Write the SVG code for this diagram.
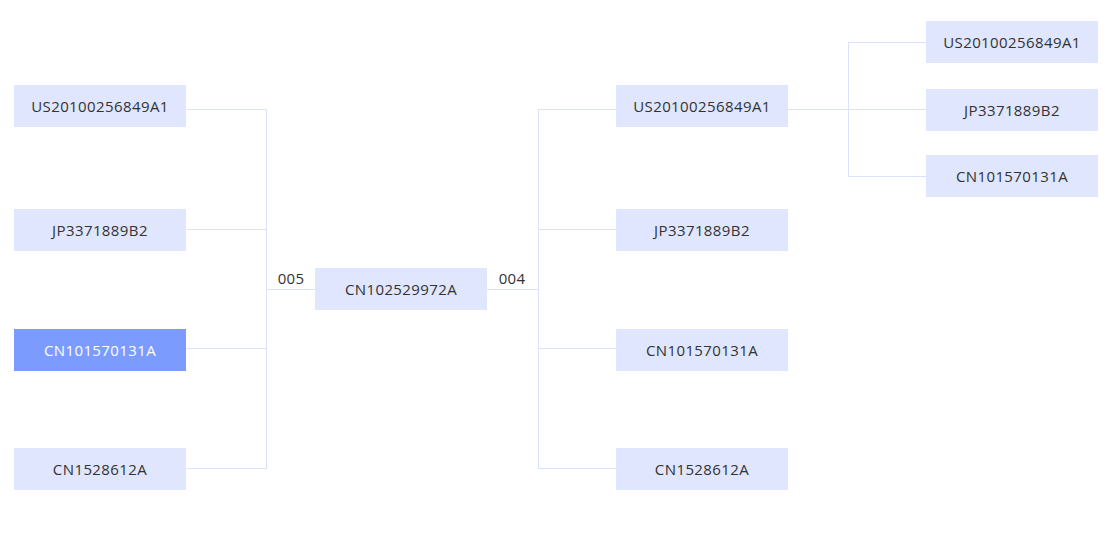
<svg xmlns="http://www.w3.org/2000/svg" width="1109" height="556" viewBox="0 0 1109 556">
<style>
.n{fill:#dfe6fd}
.h{fill:#7b9bff}
.t{font-family:"Open Sans","Noto Sans",sans-serif;font-size:15px;letter-spacing:0.4px;fill:#333;text-anchor:middle;dominant-baseline:central}
.th{fill:#fff}
.l{font-family:"Open Sans","Noto Sans",sans-serif;font-size:15px;letter-spacing:0.3px;fill:#333;text-anchor:middle}
.c{stroke:#dae3fb;stroke-width:1;fill:none}
</style>
<rect width="1109" height="556" fill="#fff"/>
<g id="connectors">
<path class="c" d="M186.5 109.5H266.5M186.5 229.5H266.5M186.5 348.5H266.5M186.5 468.5H266.5M266.5 109V469M266.5 289.5H315"/>
<path class="c" d="M487 289.5H538.5M538.5 109V469M538.5 109.5H616M538.5 229.5H616M538.5 348.5H616M538.5 468.5H616"/>
<path class="c" d="M788 109.5H926M848.5 42V177M848.5 42.5H926M848.5 176.5H926"/>
<text class="l" x="291" y="284">005</text>
<text class="l" x="512" y="284">004</text>
</g>
<g id="center"><rect class="n" x="315" y="268" width="172" height="42"/><text class="t" x="401" y="289">CN102529972A</text></g>
<g id="l1"><rect class="n" x="14" y="85" width="172" height="42"/><text class="t" x="100" y="106">US20100256849A1</text></g>
<g id="l2"><rect class="n" x="14" y="209" width="172" height="42"/><text class="t" x="100" y="230">JP3371889B2</text></g>
<g id="l3"><rect class="h" x="14" y="329" width="172" height="42"/><text class="t th" x="100" y="350">CN101570131A</text></g>
<g id="l4"><rect class="n" x="14" y="448" width="172" height="42"/><text class="t" x="100" y="469">CN1528612A</text></g>
<g id="r1"><rect class="n" x="616" y="85" width="172" height="42"/><text class="t" x="702" y="106">US20100256849A1</text></g>
<g id="r2"><rect class="n" x="616" y="209" width="172" height="42"/><text class="t" x="702" y="230">JP3371889B2</text></g>
<g id="r3"><rect class="n" x="616" y="329" width="172" height="42"/><text class="t" x="702" y="350">CN101570131A</text></g>
<g id="r4"><rect class="n" x="616" y="448" width="172" height="42"/><text class="t" x="702" y="469">CN1528612A</text></g>
<g id="f1"><rect class="n" x="926" y="21" width="172" height="42"/><text class="t" x="1012" y="42">US20100256849A1</text></g>
<g id="f2"><rect class="n" x="926" y="89" width="172" height="42"/><text class="t" x="1012" y="110">JP3371889B2</text></g>
<g id="f3"><rect class="n" x="926" y="155" width="172" height="42"/><text class="t" x="1012" y="176">CN101570131A</text></g>
</svg>
